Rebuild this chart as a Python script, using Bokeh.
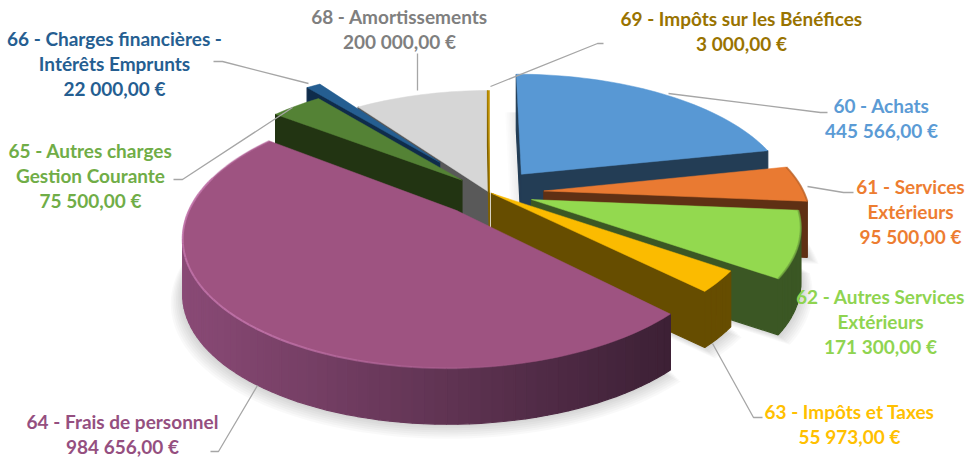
import math
from bokeh.plotting import figure
from bokeh.models import Range1d, ColumnDataSource
from bokeh.core.properties import value
from bokeh.embed import file_html
from bokeh.resources import INLINE

# ---- data
codes = ["60", "61", "62", "63", "64", "65", "66", "68", "69"]
names = ["60 - Achats", "61 - Services\nExtérieurs", "62 - Autres Services\nExtérieurs",
         "63 - Impôts et Taxes", "64 - Frais de personnel", "65 - Autres charges\nGestion Courante",
         "66 - Charges financières -\nIntérêts Emprunts", "68 - Amortissements",
         "69 - Impôts sur les Bénéfices"]
amounts = [445566, 95500, 171300, 55973, 984656, 75500, 22000, 200000, 3000]
amount_labels = ["445 566,00 €", "95 500,00 €", "171 300,00 €", "55 973,00 €", "984 656,00 €",
                 "75 500,00 €", "22 000,00 €", "200 000,00 €", "3 000,00 €"]
explode = [0.20, 0.21, 0.17, 0.01, 0.19, 0.15, 0.33, 0.0, 0.0]
radius = [1.04, 1.0, 1.0, 1.0, 1.0, 1.04, 1.0, 1.0, 1.0]

# ---- styles
top_col = ["#5898d4", "#e97a32", "#93d94f", "#fbbb00", "#9e5381", "#548235", "#255e91", "#d6d6d6", "#bf9000"]
rad_col = ["#233d55", "#5f3014", "#3b5724", "#664d00", "#3d2035", "#223412", "#0f2c4b", "#595959", "#7f6000"]
rim_l = ["#233d55", "#7a3d18", "#3f5c26", "#664d00", "#8a4a76", "#2f4a1c", "#143a60", "#8a8a8a", "#7f6000"]
rim_r = ["#233d55", "#6a3416", "#3b5724", "#664d00", "#3c2035", "#2f4a1c", "#143a60", "#8a8a8a", "#7f6000"]
txt_col = ["#5b9bd5", "#ed7d31", "#8fd450", "#ffc000", "#954f80", "#70ad47", "#255e91", "#7f7f7f", "#997300"]
draw_order = [7, 8, 6, 5, 0, 1, 2, 3, 4]
bevelled = [1, 2]

# ---- layout of labels: centre x, first-line y
label_pos = [(881, 105), (910, 186), (880, 296), (849, 411), (122, 421), (90, 150), (114, 38), (399, 16), (741, 18)]
leaders = [
    [(827, 112), (820, 112), (668, 93)],
    [(853, 192), (843, 192), (807, 186)],
    [(762, 417), (753, 417), (712, 343)],
    [(210, 451), (218, 451), (257, 385)],
    [(173, 179), (182, 179), (292, 107)],
    [(213, 61), (222, 61), (308, 83)],
    [(417, 53), (417, 90)],
    [(603, 43), (597, 43), (490, 86)],
]
LINE_H = 25

# ---- projection
CX, CY, R, A, K, H = 489, 192, 260, 121, 0.186, 56


def proj(u, v, z=0.0):
    s = 1 / (1 + K * v)
    return CX + R * u * s, CY - A * v * s + z


def mix(c1, c2, t):
    t = max(0, min(1, t))
    a = [int(c1[i:i + 2], 16) for i in (1, 3, 5)]
    b = [int(c2[i:i + 2], 16) for i in (1, 3, 5)]
    return "#%02x%02x%02x" % tuple(round(x + (y - x) * t) for x, y in zip(a, b))


W, HT = 977, 457
p = figure(width=W, height=HT, x_range=Range1d(0, W), y_range=Range1d(HT, 0),
           output_backend="svg", toolbar_location=None, min_border=0)
p.axis.visible = False
p.grid.visible = False
p.outline_line_color = None
p.background_fill_color = "white"
p.border_fill_color = "white"

total = sum(amounts)
slices = []
acc = 0.0
for i, a in enumerate(amounts):
    t0 = acc / total * 2 * math.pi
    acc += a
    t1 = acc / total * 2 * math.pi
    mid = (t0 + t1) / 2
    eu, ev = explode[i] * math.sin(mid), explode[i] * math.cos(mid)
    n = max(2, int(math.degrees(t1 - t0) / 2) + 1)
    rr = radius[i]
    plane = [(eu, ev)] + [(eu + rr * math.sin(t0 + (t1 - t0) * j / n), ev + rr * math.cos(t0 + (t1 - t0) * j / n))
                          for j in range(n + 1)]
    slices.append((plane, t0, t1))


def area(poly):
    return sum(poly[j][0] * poly[(j + 1) % len(poly)][1] - poly[(j + 1) % len(poly)][0] * poly[j][1]
               for j in range(len(poly)))


# soft shadows below the pieces
for i in draw_order:
    plane = slices[i][0]
    for k in range(7, 0, -1):
        scale = 1 + 0.006 * k
        c = plane[0]
        pts = [proj(c[0] + (u - c[0]) * scale, c[1] + (v - c[1]) * scale, H + k * 0.9) for u, v in plane]
        p.patch([q[0] for q in pts], [q[1] for q in pts], fill_color="#000000", fill_alpha=0.022, line_color=None)

# faint cast shadow on the left of the first piece
top0 = [proj(u, v) for u, v in slices[0][0]]
for k in range(1, 8):
    p.patch([q[0] - k * 1.6 for q in top0], [q[1] + 38 for q in top0], fill_color="#000000",
            fill_alpha=0.012, line_color=None)

# pieces, back to front
for i in draw_order:
    plane, t0, t1 = slices[i]
    top = [proj(u, v) for u, v in plane]
    bot = [proj(u, v, H) for u, v in plane]
    m = len(top)
    xs, ys, cols = [], [], []
    for j in range(m):
        a_, b_ = top[j], top[(j + 1) % m]
        c_, d_ = bot[(j + 1) % m], bot[j]
        quad = [a_, b_, c_, d_]
        if area(quad) >= 0:
            continue
        radial = j == 0 or j == m - 1
        if radial:
            col = rad_col[i]
        else:
            col = mix(rim_l[i], rim_r[i], ((a_[0] + b_[0]) / 2 - 180) / 490)
        xs.append([q[0] for q in quad])
        ys.append([q[1] for q in quad])
        cols.append(col)
    if xs:
        p.patches(xs, ys, fill_color=cols, line_color=cols, line_width=1.2)
    p.patch([q[0] for q in top], [q[1] for q in top], fill_color=top_col[i], line_color=top_col[i], line_width=0.5)
    if i in bevelled:
        rim_top = top[1:]
        p.line([q[0] for q in rim_top], [q[1] for q in rim_top],
               line_color=mix(top_col[i], rim_l[i], 0.45), line_width=2, line_alpha=0.7)

# rim highlight of the largest piece
i_big = amounts.index(max(amounts))
plane, t0, t1 = slices[i_big]
rim = [proj(u, v) for u, v in plane[1:]]
hx, hy, ha = [], [], []
for j in range(len(rim) - 1):
    ang = t0 + (t1 - t0) * (j + 0.5) / (len(rim) - 1)
    hx.append([rim[j][0], rim[j + 1][0]])
    hy.append([rim[j][1], rim[j + 1][1]])
    ha.append(max(0.0, min(0.85, (math.degrees(ang) - 165) / 60)) * (1 if math.degrees(ang) < 285 else 0.5))
p.multi_line(source=ColumnDataSource(dict(xs=hx, ys=hy, a=ha)), xs="xs", ys="ys",
             line_color="#c274aa", line_alpha="a", line_width=2)

# leader lines
p.multi_line([[q[0] for q in l] for l in leaders], [[q[1] for q in l] for l in leaders],
             line_color="#a6a6a6", line_width=1.3)

# labels
tx, ty, tt, tc = [], [], [], []
for i in range(len(codes)):
    lines = names[i].split("\n") + [amount_labels[i]]
    for j, line in enumerate(lines):
        tx.append(label_pos[i][0])
        ty.append(label_pos[i][1] + j * LINE_H)
        tt.append(line)
        tc.append(txt_col[i])
p.text(tx, ty, text=tt, text_color=tc, text_font=value("Lato"), text_font_style="bold",
       text_font_size="19px", text_align="center", text_baseline="middle")

open("out.html", "w").write(file_html(p, INLINE))
